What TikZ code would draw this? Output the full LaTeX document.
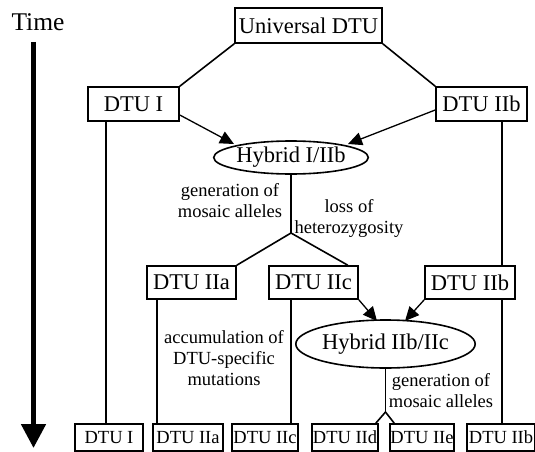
\documentclass[tikz,border=0pt]{standalone}
\usepackage{fontspec}
\setmainfont{Liberation Serif}
\usetikzlibrary{arrows.meta,shapes.geometric,calc}

\begin{document}
\begin{tikzpicture}[x=1pt,y=-1pt,line width=1.6pt,
	dtu/.style={draw, rectangle, inner sep=0pt, minimum height=34pt, font=\fontsize{22.5}{24}\selectfont},
	leaf/.style={draw, rectangle, inner sep=0pt, minimum height=27pt, minimum width=66pt, font=\fontsize{18.5}{20}\selectfont},
	hyb/.style={draw, ellipse, inner sep=0pt, font=\fontsize{22.5}{24}\selectfont},
	note/.style={align=center, font=\fontsize{18.5}{21}\selectfont},
	arr/.style={-{Triangle[length=14pt,width=13pt]}, line width=1.3pt}]
	\useasboundingbox (0,0) rectangle (535,452);
	
	\draw (38,22) node[font=\fontsize{25.5}{28}\selectfont] (time) {Time};
	\coordinate (tstart) at (33.5,42);
	\coordinate (tend) at (33.5,448);
	\draw[line width=5pt, -{Triangle[length=24pt,width=24pt]}] (tstart) -- (tend);
	
	\draw (308.5,25.5) node[dtu, minimum width=147pt, minimum height=35pt] (univ) {Universal DTU};
	\draw (133.5,104) node[dtu, minimum width=91pt] (dtuI) {DTU I};
	\draw (481.5,104) node[dtu, minimum width=91pt] (dtuIIb) {DTU IIb};
	\draw (291,157.5) node[hyb, minimum width=124pt, minimum height=33pt] (hybA) {Hybrid I/IIb};
	
	\draw (191.5,282.5) node[dtu, minimum width=89pt, minimum height=33pt] (dtuIIam) {DTU IIa};
	\draw (313.5,282.5) node[dtu, minimum width=89pt, minimum height=33pt] (dtuIIcm) {DTU IIc};
	\draw (470,282.5) node[dtu, minimum width=90pt, minimum height=33pt] (dtuIIbm) {DTU IIb};
	\draw (385.5,344) node[hyb, minimum width=129pt, minimum height=48pt] (hybB) {Hybrid IIb/IIc};
	
	\draw (109,437.5) node[leaf, minimum width=68pt] (leafI) {DTU I};
	\draw (188,437.5) node[leaf, minimum width=70pt] (leafIIa) {DTU IIa};
	\draw (265,437.5) node[leaf] (leafIIc) {DTU IIc};
	\draw (345,437.5) node[leaf] (leafIId) {DTU IId};
	\draw (422,437.5) node[leaf, minimum width=64pt] (leafIIe) {DTU IIe};
	\draw (501,437.5) node[leaf, minimum width=68pt] (leafIIb) {DTU IIb};
	
	\draw (230,201) node[note] (genA) {generation of\\mosaic alleles};
	\draw (349,218) node[note] (loss) {loss of\\heterozygosity};
	\draw (224,358) node[note] (accum) {accumulation of\\DTU-specific\\mutations};
	\draw (441,390.5) node[note] (genB) {generation of\\mosaic alleles};
	
	\draw (univ.south west) -- (dtuI.north east);
	\draw (univ.south east) -- (dtuIIb.north west);
	\coordinate (hybAinL) at (234,144);
	\coordinate (hybAinR) at (348,144);
	\draw[arr] ($(dtuI.east)+(0,11)$) -- (hybAinL);
	\draw[arr] ($(dtuIIb.west)+(0,6)$) -- (hybAinR);
	
	\coordinate (splitA) at (291,233);
	\draw (hybA.south) -- (splitA);
	\draw (splitA) -- (dtuIIam.north east);
	\draw (splitA) -- ($(dtuIIcm.north east)+(-11,0)$);
	
	\coordinate (hybBinL) at (377,321);
	\coordinate (hybBinR) at (405,321);
	\draw[arr] (dtuIIcm.south east) -- (hybBinL);
	\draw[arr] (dtuIIbm.south west) -- (hybBinR);
	
	\coordinate (splitB) at (385.5,412);
	\draw (hybB.south) -- (splitB);
	\draw (splitB) -- ($(leafIId.north east)+(-3,0)$);
	\draw (splitB) -- ($(leafIIe.north west)+(5,0)$);
	
	\coordinate (vI) at ($(dtuI.south west)+(19,0)$);
	\draw (vI) -- (vI |- leafI.north);
	\coordinate (vIIb) at ($(dtuIIb.south west)+(67,0)$);
	\draw (vIIb) -- (vIIb |- dtuIIbm.north);
	\draw (vIIb |- dtuIIbm.south) -- (vIIb |- leafIIb.north);
	\coordinate (vIIa) at ($(dtuIIam.south west)+(11,0)$);
	\draw (vIIa) -- (vIIa |- leafIIa.north);
	\coordinate (vIIc) at ($(dtuIIcm.south west)+(22.5,0)$);
	\draw (vIIc) -- (vIIc |- leafIIc.north);
\end{tikzpicture}
\end{document}
